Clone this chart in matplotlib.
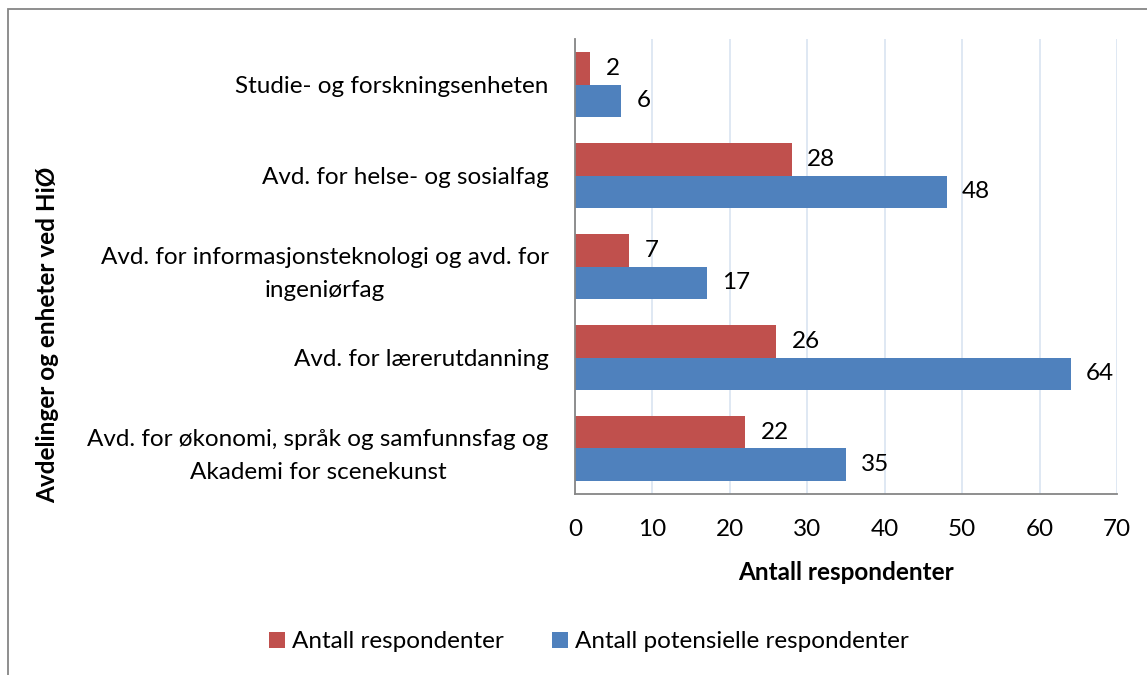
import matplotlib as mpl
import matplotlib.pyplot as plt
import numpy as np

categories = ['Studie- og forskningsenheten',
              'Avd. for helse- og sosialfag',
              'Avd. for informasjonsteknologi og avd. for\ningeniørfag',
              'Avd. for lærerutdanning',
              'Avd. for økonomi, språk og samfunnsfag og\nAkademi for scenekunst']
respondenter = [2, 28, 7, 26, 22]
potensielle = [6, 48, 17, 64, 35]
series_names = ['Antall respondenter', 'Antall potensielle respondenter']
xticks = [0, 10, 20, 30, 40, 50, 60, 70]

RED = '#C0504D'
BLUE = '#4F81BD'
GRAY = '#868686'
GRID = '#DCE6F2'
FS = 17.5


def main():
    mpl.rcParams['font.family'] = ['Lato', 'DejaVu Sans']
    mpl.rcParams['font.size'] = FS
    fig = plt.figure(figsize=(11.47, 6.75), dpi=100)
    W, H = 1147., 675.
    ax = fig.add_axes([575 / W, 1 - 494 / H, (1117 - 575) / W, (494 - 39) / H])

    # chart border (right and bottom edges run off the image)
    fig.patches.append(mpl.patches.Rectangle(
        (8 / W, -0.2), 1.2, 1 - 9 / H + 0.2, transform=fig.transFigure,
        fill=False, edgecolor=GRAY, linewidth=1.3))

    y = np.arange(len(categories))
    h = 0.357
    b1 = ax.barh(y - h / 2, respondenter, h, color=RED, label=series_names[0])
    b2 = ax.barh(y + h / 2, potensielle, h, color=BLUE, label=series_names[1])
    for bars in (b1, b2):
        ax.bar_label(bars, padding=11, fontsize=FS, color='black')

    ax.set_xlim(0, 70)
    ax.set_ylim(len(categories) - 0.5, -0.5)
    ax.set_xticks(xticks)
    ax.set_yticks(y)
    ax.set_yticklabels(categories, multialignment='center', linespacing=1.65)
    ax.tick_params(axis='both', length=0)
    ax.tick_params(axis='y', pad=19)
    ax.tick_params(axis='x', pad=18)
    ax.xaxis.grid(True, color=GRID, linewidth=1.3)
    ax.set_axisbelow(True)
    for s in ('top', 'right'):
        ax.spines[s].set_visible(False)
    for s in ('left', 'bottom'):
        ax.spines[s].set_color(GRAY)
        ax.spines[s].set_linewidth(1.3)

    ax.set_xlabel('Antall respondenter', fontweight='bold', labelpad=15)
    fig.text(48 / W, 1 - 335 / H, 'Avdelinger og enheter ved HiØ',
             rotation=90, fontweight='bold', ha='center', va='center')

    fig.legend(handles=[b1, b2], loc='center', ncol=2, frameon=False,
               bbox_to_anchor=(589 / W, 1 - 642 / H), handlelength=0.65,
               handleheight=0.65, handletextpad=0.3, columnspacing=2.0,
               fontsize=FS)

    fig.savefig('out.png', dpi=100)


if __name__ == '__main__':
    main()
